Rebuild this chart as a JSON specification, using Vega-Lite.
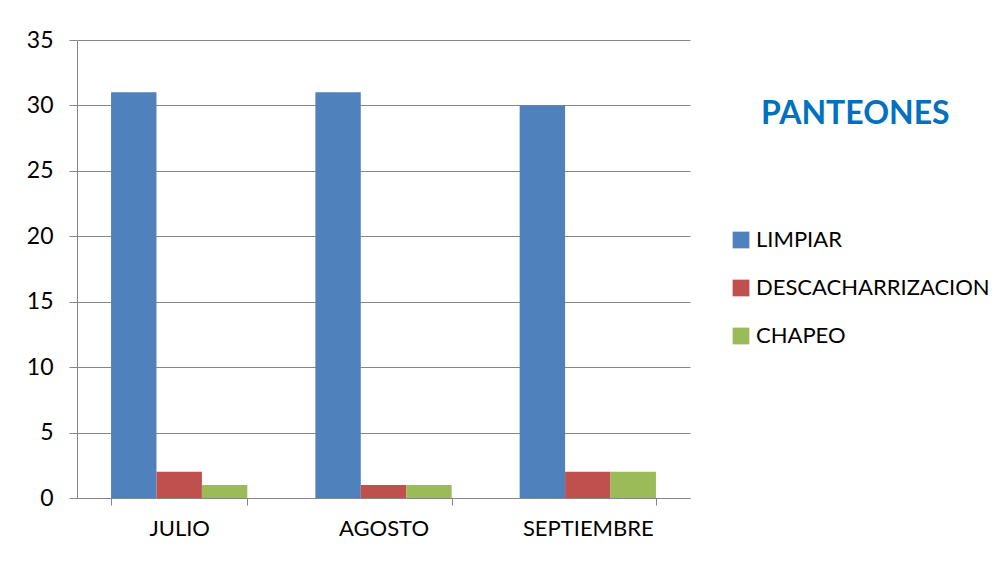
{
  "$schema": "https://vega.github.io/schema/vega-lite/v6.json",
  "autosize": "none",
  "width": 613,
  "height": 458,
  "padding": {"left": 77, "top": 40, "right": 315, "bottom": 64},
  "background": "white",
  "title": {
    "text": "PANTEONES",
    "anchor": "start",
    "frame": "group",
    "orient": "top",
    "baseline": "alphabetic",
    "dx": 684,
    "dy": 131,
    "font": "Lato",
    "fontSize": 32,
    "fontWeight": "bold",
    "color": "#0070C0"
  },
  "data": {
    "values": [
      {"mes": "JULIO", "serie": "LIMPIAR", "valor": 31},
      {"mes": "JULIO", "serie": "DESCACHARRIZACION", "valor": 2},
      {"mes": "JULIO", "serie": "CHAPEO", "valor": 1},
      {"mes": "AGOSTO", "serie": "LIMPIAR", "valor": 31},
      {"mes": "AGOSTO", "serie": "DESCACHARRIZACION", "valor": 1},
      {"mes": "AGOSTO", "serie": "CHAPEO", "valor": 1},
      {"mes": "SEPTIEMBRE", "serie": "LIMPIAR", "valor": 30},
      {"mes": "SEPTIEMBRE", "serie": "DESCACHARRIZACION", "valor": 2},
      {"mes": "SEPTIEMBRE", "serie": "CHAPEO", "valor": 2}
    ]
  },
  "mark": {"type": "bar"},
  "encoding": {
    "x": {
      "field": "mes",
      "type": "nominal",
      "sort": ["JULIO", "AGOSTO", "SEPTIEMBRE"],
      "scale": {"paddingInner": 0.333, "paddingOuter": 0.1667},
      "axis": {
        "title": null,
        "labelAngle": 0,
        "tickBand": "extent",
        "domainColor": "#868686",
        "tickColor": "#868686",
        "tickSize": 7,
        "labelFont": "Lato",
        "labelFontSize": 22,
        "labelColor": "black",
        "labelPadding": 13,
        "grid": false
      }
    },
    "xOffset": {
      "field": "serie",
      "type": "nominal",
      "sort": ["LIMPIAR", "DESCACHARRIZACION", "CHAPEO"],
      "scale": {"paddingInner": 0, "paddingOuter": 0}
    },
    "y": {
      "field": "valor",
      "type": "quantitative",
      "scale": {"domain": [0, 35], "nice": false},
      "axis": {
        "title": null,
        "values": [0, 5, 10, 15, 20, 25, 30, 35],
        "grid": true,
        "gridColor": "#868686",
        "domainColor": "#868686",
        "tickColor": "#868686",
        "tickSize": 8,
        "labelFont": "Lato",
        "labelFontSize": 23,
        "labelColor": "black",
        "labelPadding": 16
      }
    },
    "color": {
      "field": "serie",
      "type": "nominal",
      "sort": ["LIMPIAR", "DESCACHARRIZACION", "CHAPEO"],
      "scale": {"range": ["#4F81BD", "#C0504D", "#9BBB59"]},
      "legend": {
        "title": null,
        "orient": "none",
        "legendX": 653,
        "legendY": 189,
        "symbolType": "square",
        "symbolSize": 280,
        "symbolStrokeWidth": 0,
        "symbolOpacity": 1,
        "labelFont": "Lato",
        "labelFontSize": 22,
        "labelColor": "black",
        "labelOffset": 4,
        "labelLimit": 400,
        "rowPadding": 26
      }
    }
  },
  "config": {
    "view": {"stroke": null},
    "axis": {"domainWidth": 1, "gridWidth": 1, "tickWidth": 1}
  }
}
